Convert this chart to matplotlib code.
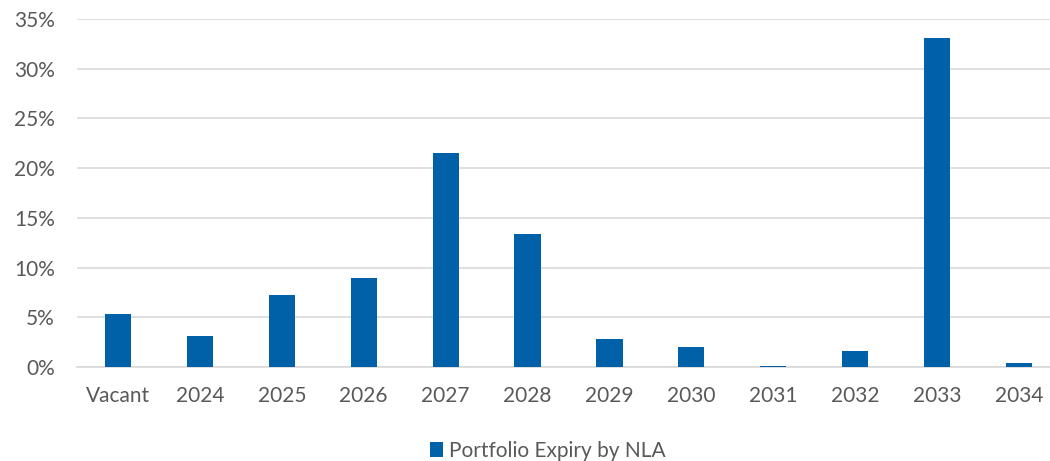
import matplotlib
matplotlib.use("Agg")
import matplotlib.pyplot as plt
from matplotlib.ticker import PercentFormatter

categories = ['Vacant', '2024', '2025', '2026', '2027', '2028',
              '2029', '2030', '2031', '2032', '2033', '2034']
expiry_pct = [5.35, 3.1, 7.25, 9.0, 21.5, 13.4, 2.8, 2.0, 0.1, 1.6, 33.1, 0.4]

bar_color = '#0061A8'
text_color = '#595959'
grid_color = '#D9D9D9'

plt.rcParams['font.family'] = ['Lato', 'DejaVu Sans']

fig = plt.figure(figsize=(10.5, 4.61), dpi=100)
ax = fig.add_axes([77 / 1050, 94 / 461, (1060 - 77) / 1050, 348 / 461])

x = range(len(categories))
ax.bar(x, expiry_pct, width=0.32, color=bar_color, label='Portfolio Expiry by NLA', zorder=3)

ax.set_xlim(-0.5, len(categories) - 0.5)
ax.set_ylim(0, 35)
ax.set_yticks(range(0, 36, 5))
ax.yaxis.set_major_formatter(PercentFormatter(decimals=0))
ax.set_xticks(list(x))
ax.set_xticklabels(categories)

ax.grid(axis='y', color=grid_color, linewidth=1.2, zorder=0)
for s in ['top', 'right', 'left']:
    ax.spines[s].set_visible(False)
ax.spines['bottom'].set_color(grid_color)
ax.spines['bottom'].set_linewidth(1.2)
ax.tick_params(axis='both', length=0, labelsize=15, colors=text_color)
ax.tick_params(axis='x', pad=14)
ax.tick_params(axis='y', pad=16)

fig.legend(loc='lower center', bbox_to_anchor=(0.522, -0.04), frameon=False,
           fontsize=15, labelcolor=text_color, handlelength=0.6, handleheight=0.7,
           handletextpad=0.3)

fig.savefig('out.png', dpi=100)
